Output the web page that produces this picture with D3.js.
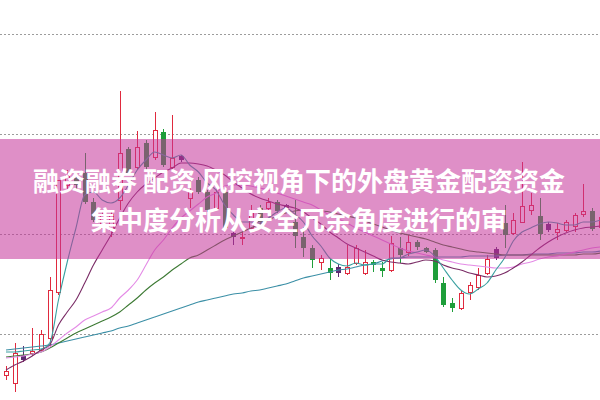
<!DOCTYPE html>
<html><head><meta charset="utf-8">
<script src="https://cdn.jsdelivr.net/npm/d3@7"></script>
<style>html,body{margin:0;padding:0;background:#fff;}svg{display:block}</style>
</head><body><svg id="c" width="600" height="400"></svg>
<script>
// ---- data (price units; only relative) ----
const openP  = [5.8,5.0,7.8,8.0,8.3,9.5,14.1,24.8,25.5,26.0, 23.1,20.5,20.3,23.3,28.4,26.6,29.0,27.6,30.1,26.6, 27.7,23.5,25.3,24.1,22.5,24.1,20.0,19.5,20.5,22.5, 22.5,23.1,22.8,21.1,19.6,18.5,17.1,16.5,16.6,16.0, 17.0,16.0,17.1,16.5,16.3,18.5,18.1,19.1,18.5,18.3, 15.0,13.0,12.5,14.1,14.6,16.0,18.4,21.0,20.0,21.1, 22.3,21.7,20.9,20.1,20.3,20.7,21.9,22.2,20.6];
const closeP = [6.2,8.0,7.3,8.2,9.9,14.3,25.3,25.8,24.8,23.1, 21.3,21.8,21.9,28.0,26.0,28.6,26.6,30.3,26.8,27.5, 27.3,24.1,24.1,22.3,24.1,20.5,19.6,19.6,22.3,21.1, 23.1,22.2,22.5,19.7,18.5,17.3,17.5,16.0,16.0,16.6, 18.5,17.1,16.8,16.2,19.0,17.8,19.1,18.6,18.1,15.3, 12.8,12.5,14.0,14.8,15.8,17.4,17.5,19.8,21.3,22.7, 22.8,19.9,20.3,20.4,21.1,21.8,22.2,20.4,21.6];
const highP  = [6.7,9.0,8.7,10.5,10.3,15.6,25.3,26.3,26.1,28.0, 23.5,22.1,22.3,34.2,28.6,30.2,29.3,32.1,30.4,31.8, 27.8,25.3,25.6,24.3,24.6,24.3,20.2,20.1,22.8,22.8, 23.5,23.3,22.9,23.3,20.6,18.8,17.8,17.4,16.9,18.8, 18.8,18.3,17.3,17.1,19.7,19.6,19.8,19.3,18.6,18.5, 15.6,13.5,14.3,15.1,16.5,17.8,18.6,22.8,22.0,27.1, 24.0,23.5,21.1,21.0,21.3,22.0,24.9,22.5,22.1];
const lowP   = [5.3,4.1,7.1,7.7,8.1,8.6,13.8,24.3,24.3,22.9, 21.1,20.1,19.6,22.3,25.8,26.3,26.3,27.3,26.6,26.3, 27.1,22.5,23.9,22.1,22.3,20.3,18.8,18.8,20.3,20.8, 22.3,22.0,22.3,18.5,17.6,16.5,16.3,15.3,15.6,15.8, 16.8,15.8,16.1,15.6,16.1,17.0,17.7,18.3,18.0,15.0, 12.6,12.1,12.3,13.3,14.3,15.8,17.3,18.5,19.8,21.0, 21.8,19.3,20.1,19.3,20.1,20.1,21.6,20.2,20.3];
const markIdx = [2,20,26,32,38,56,62];

const ma5  = [8.1,8.1,8.2,8.3,8.4,9.0,13.3,17.1,20.5,23.8, 24.1,23.3,23.0,23.5,24.8,26.3,27.3,28.1,27.8,27.5, 27.8,26.8,26.1,25.0,24.3,22.8,21.8,21.1,21.1,21.0, 21.5,22.1,22.5,21.9,21.1,19.7,18.7,17.5,16.9,16.7, 17.0,16.8,16.9,16.9,17.5,17.5,17.9,18.1,18.3,17.7, 16.5,15.3,14.3,13.9,14.4,15.0,16.3,17.5,19.2,20.1, 20.5,20.9,21.1,21.0,20.8,20.8,21.1,21.1,21.3];
const ma10 = [6.3,6.8,7.2,7.7,8.3,8.8,10.8,12.1,13.3,15.0, 16.8,18.3,19.8,21.5,23.0,24.1,24.9,25.5,26.1,26.5, 27.0,27.0,26.9,26.7,26.3,25.8,25.1,24.5,23.9,23.5, 23.2,22.9,22.7,22.5,22.1,21.5,20.9,20.1,19.5,18.9, 18.5,18.1,17.7,17.3,17.1,17.0,16.9,17.1,17.3,17.2, 16.8,16.5,16.3,16.0,15.8,15.6,15.7,16.0,16.5,17.1, 17.8,18.5,19.1,19.6,20.0,20.3,20.5,20.6,20.7];
const ma20 = [7.5,7.6,7.7,7.9,8.1,8.6,9.3,10.0,10.6,11.3, 11.7,12.1,12.5,13.5,14.3,15.3,16.8,18.3,19.3,20.5, 21.5,22.2,22.9,23.6,24.0,24.7,24.8,24.8,24.7,24.5, 24.3,24.0,23.7,23.4,23.1,22.8,22.3,21.8,21.4,21.0, 20.5,20.1,19.7,19.3,18.9,18.5,18.2,18.0,17.8,17.6, 17.3,17.1,16.9,16.8,16.7,16.6,16.5,16.5,16.6,16.9, 17.1,17.4,17.6,17.7,17.9,18.1,18.3,18.5,18.6];
const ma30 = [7.6,7.7,7.8,7.9,8.1,8.5,9.0,9.5,10.0,10.4, 10.8,11.2,11.6,12.1,12.8,13.5,14.3,15.0,15.6,16.3, 16.9,17.5,17.8,18.3,18.8,19.3,19.7,20.1,20.5,20.9, 21.3,21.7,22.0,22.2,22.3,22.3,22.2,22.1,21.9,21.7, 21.5,21.2,20.9,20.6,20.3,20.0,19.8,19.6,19.4,19.1, 18.8,18.6,18.4,18.2,18.1,18.0,17.9,17.8,17.8,17.8, 17.8,17.8,17.8,17.8,17.8,17.8,17.9,17.9,18.0];
const ma60 = [8.3,8.4,8.5,8.6,8.7,8.8,9.0,9.2,9.4,9.6, 9.8,10.0,10.2,10.5,10.7,11.0,11.3,11.6,11.9,12.2, 12.5,12.8,13.1,13.3,13.5,13.7,13.9,14.0,14.2,14.3, 14.5,14.7,14.9,15.2,15.5,15.7,15.9,16.1,16.3,16.4, 16.6,16.8,16.9,17.2,17.4,17.5,17.6,17.6,17.6,17.6, 17.6,17.6,17.6,17.7,17.7,17.7,17.7,17.8,17.8,17.8, 17.9,17.9,17.9,18.0,18.0,18.0,18.1,18.1,18.2];

const gridVals = [10, 20, 30, 40];
const titleLines = ["融资融券 配资 风控视角下的外盘黄金配资资金", "集中度分析从安全冗余角度进行的审"];

// ---- drawing ----
const W = 600, H = 400;
const svg = d3.select("#c");
const x = d3.scaleLinear().domain([0, 67]).range([6, 592]);
const y = d3.scaleLinear().domain([10, 40]).range([333, 33]);

// grid via axis
const gAxis = svg.append("g").attr("transform", "translate(0,0.5)")
  .call(d3.axisLeft(y).tickValues(gridVals).tickSize(-W).tickFormat(""));
gAxis.select(".domain").remove();
gAxis.selectAll(".tick line").attr("stroke", "#9c9c9c").attr("stroke-dasharray", "2,2")
  .attr("shape-rendering", "crispEdges");

const candles = openP.map((o, i) => ({ i, o, c: closeP[i], h: highP[i], l: lowP[i], mark: markIdx.includes(i) }));
const RED = "#e02a3e", GREEN = "#1e9e3a", MARK = "#5c2a72";

const cg = svg.append("g").attr("shape-rendering", "crispEdges");
candles.forEach(d => {
  const cx = Math.round(x(d.i));
  const up = d.c >= d.o && !d.mark;
  const col = d.mark ? MARK : (up ? RED : GREEN);
  const top = y(Math.max(d.o, d.c)), bot = y(Math.min(d.o, d.c));
  if (up) {
    cg.append("line").attr("x1", cx + 0.5).attr("x2", cx + 0.5).attr("y1", y(d.h)).attr("y2", top).attr("stroke", col);
    cg.append("line").attr("x1", cx + 0.5).attr("x2", cx + 0.5).attr("y1", bot).attr("y2", y(d.l)).attr("stroke", col);
    cg.append("rect").attr("x", cx - 1.5).attr("y", Math.round(top) + 0.5).attr("width", 4)
      .attr("height", Math.max(1, Math.round(bot) - Math.round(top)))
      .attr("fill", "#fff").attr("stroke", col);
  } else {
    cg.append("line").attr("x1", cx + 0.5).attr("x2", cx + 0.5).attr("y1", y(d.h)).attr("y2", y(d.l)).attr("stroke", col);
    cg.append("rect").attr("x", cx - 2).attr("y", Math.round(top)).attr("width", 5)
      .attr("height", Math.max(2, Math.round(bot) - Math.round(top)))
      .attr("fill", col);
  }
});

const line = d3.line().x((d, i) => x(i)).y(d => y(d)).curve(d3.curveMonotoneX);
const maSeries = [
  { v: ma60, c: "#3b8fa6" },
  { v: ma30, c: "#3d7a34" },
  { v: ma20, c: "#e48be6" },
  { v: ma10, c: "#7a2c66" },
  { v: ma5,  c: "#3aa0a0" }
];
svg.append("g").selectAll("path").data(maSeries).join("path")
  .attr("d", d => line(d.v)).attr("fill", "none").attr("stroke", d => d.c).attr("stroke-width", 1.1);

// overlay banner
svg.append("rect").attr("x", 0).attr("y", 139).attr("width", W).attr("height", 120)
  .attr("fill", "#c43399").attr("fill-opacity", 0.55);

svg.append("g").selectAll("text").data(titleLines).join("text")
  .attr("x", 299).attr("y", (d, i) => 191 + i * 39)
  .attr("text-anchor", "middle")
  .attr("font-family", "'Noto Sans CJK SC','Noto Sans',sans-serif")
  .attr("font-weight", 700).attr("font-size", 26).attr("fill", "#fff")
  .text(d => d);
</script>
</body></html>
